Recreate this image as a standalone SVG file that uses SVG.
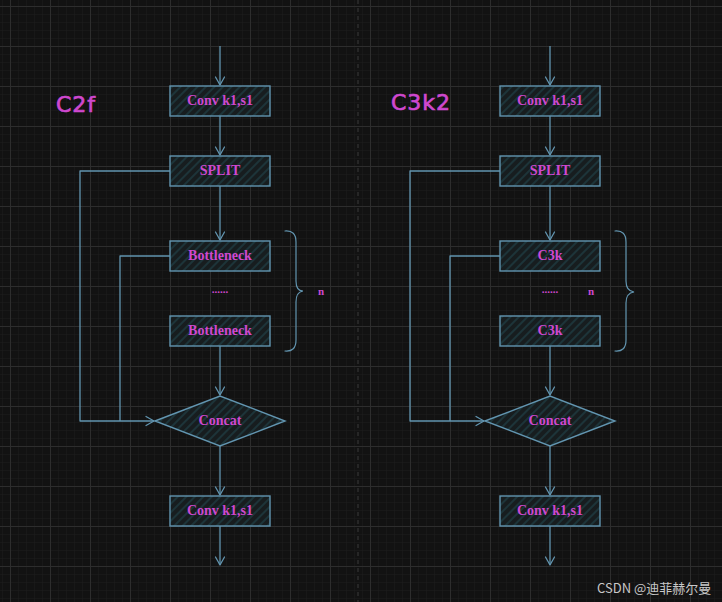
<svg xmlns="http://www.w3.org/2000/svg" width="722" height="602" viewBox="0 0 722 602">
<defs>
<pattern id="minor" x="2" y="6" width="8" height="8" patternUnits="userSpaceOnUse">
<path d="M0,0 V8 M0,0 H8" stroke="#1d1d1d" stroke-width="1" fill="none"/>
</pattern>
<pattern id="major" x="10" y="6" width="40" height="40" patternUnits="userSpaceOnUse">
<path d="M0.5,0 V40 M0,0.5 H40" stroke="#2d2d2d" stroke-width="1" fill="none"/>
</pattern>
<pattern id="hatch" width="6" height="6" patternUnits="userSpaceOnUse" patternTransform="rotate(-45)">
<rect width="6" height="6" fill="#171d1f"/>
<path d="M0,3 H6" stroke="#21434a" stroke-width="1.2"/>
</pattern>
<marker id="arr" markerWidth="12" markerHeight="12" refX="0" refY="0" viewBox="-10 -6 12 12" orient="auto" markerUnits="userSpaceOnUse">
<path d="M-8,-4.5 L0,0 L-8,4.5" fill="none" stroke="#6295b0" stroke-width="1.3" stroke-linejoin="round" stroke-linecap="round"/>
</marker>
</defs>
<style>
.node{fill:url(#hatch);stroke:#6295b0;stroke-width:1.4}
.lbl{font-family:"Liberation Serif",serif;font-weight:bold;font-size:14px;fill:#cf48cf;text-anchor:middle}
.title{font-family:"DejaVu Sans",sans-serif;font-size:22px;fill:#cf48cf;stroke:#cf48cf;stroke-width:0.7;letter-spacing:1px}
.edge{fill:none;stroke:#6295b0;stroke-width:1.3;stroke-linejoin:round}
.brace{fill:none;stroke:#6295b0;stroke-width:1.2;stroke-linecap:round}
</style>
<rect width="722" height="602" fill="#121212"/>
<rect width="722" height="602" fill="url(#minor)"/>
<rect width="722" height="602" fill="url(#major)"/>
<line x1="358" y1="0" x2="358" y2="602" stroke="#3a3a3a" stroke-width="1" stroke-dasharray="4,4"/>

<text class="title" x="56" y="112">C2f</text>
<text class="title" x="391" y="110">C3k2</text>

<g id="connectors">
<path class="edge" d="M220,46 V85" marker-end="url(#arr)"/>
<path class="edge" d="M220,116 V155" marker-end="url(#arr)"/>
<path class="edge" d="M220,186 V240" marker-end="url(#arr)"/>
<path class="edge" d="M220,346 V395" marker-end="url(#arr)"/>
<path class="edge" d="M220,446 V495" marker-end="url(#arr)"/>
<path class="edge" d="M220,526 V565" marker-end="url(#arr)"/>
<path class="edge" d="M170,171 H80 V421 H154" marker-end="url(#arr)"/>
<path class="edge" d="M170,256 H120 V421"/>

<path class="edge" d="M550,46 V85" marker-end="url(#arr)"/>
<path class="edge" d="M550,116 V155" marker-end="url(#arr)"/>
<path class="edge" d="M550,186 V240" marker-end="url(#arr)"/>
<path class="edge" d="M550,346 V395" marker-end="url(#arr)"/>
<path class="edge" d="M550,446 V495" marker-end="url(#arr)"/>
<path class="edge" d="M550,526 V565" marker-end="url(#arr)"/>
<path class="edge" d="M500,171 H410 V421 H484" marker-end="url(#arr)"/>
<path class="edge" d="M500,256 H450 V421"/>
</g>

<g id="c2f-conv1"><rect class="node" x="170" y="86" width="100" height="30"/><text class="lbl" x="220" y="105">Conv k1,s1</text></g>
<g id="c2f-split"><rect class="node" x="170" y="156" width="100" height="30"/><text class="lbl" x="220" y="175">SPLIT</text></g>
<g id="c2f-bottleneck1"><rect class="node" x="170" y="241" width="100" height="30"/><text class="lbl" x="220" y="260">Bottleneck</text></g>
<g id="c2f-dots"><text class="lbl" x="220" y="293" style="font-size:11px">......</text></g>
<g id="c2f-bottleneck2"><rect class="node" x="170" y="316" width="100" height="30"/><text class="lbl" x="220" y="335">Bottleneck</text></g>
<g id="c2f-concat"><path class="node" d="M155,421 L220,396 L285,421 L220,446 Z"/><text class="lbl" x="220" y="425">Concat</text></g>
<g id="c2f-conv2"><rect class="node" x="170" y="496" width="100" height="30"/><text class="lbl" x="220" y="515">Conv k1,s1</text></g>
<g id="c2f-brace"><path class="brace" d="M285,231 Q296,230 296,242 V281 Q296,291 303,291 Q296,292 296,302 V340 Q296,352 285,351"/><text class="lbl" x="321" y="295" style="font-size:11px">n</text></g>

<g id="c3k2-conv1"><rect class="node" x="500" y="86" width="100" height="30"/><text class="lbl" x="550" y="105">Conv k1,s1</text></g>
<g id="c3k2-split"><rect class="node" x="500" y="156" width="100" height="30"/><text class="lbl" x="550" y="175">SPLIT</text></g>
<g id="c3k2-c3k1"><rect class="node" x="500" y="241" width="100" height="30"/><text class="lbl" x="550" y="260">C3k</text></g>
<g id="c3k2-dots"><text class="lbl" x="550" y="293" style="font-size:11px">......</text><text class="lbl" x="591" y="295" style="font-size:11px">n</text></g>
<g id="c3k2-c3k2"><rect class="node" x="500" y="316" width="100" height="30"/><text class="lbl" x="550" y="335">C3k</text></g>
<g id="c3k2-concat"><path class="node" d="M485,421 L550,396 L615,421 L550,446 Z"/><text class="lbl" x="550" y="425">Concat</text></g>
<g id="c3k2-conv2"><rect class="node" x="500" y="496" width="100" height="30"/><text class="lbl" x="550" y="515">Conv k1,s1</text></g>
<g id="c3k2-brace"><path class="brace" d="M615,231 Q626,230 626,242 V281 Q626,291 634,292 Q626,293 626,303 V340 Q626,352 615,351"/></g>

<text x="597" y="593" style="font-family:'Noto Sans CJK SC','DejaVu Sans',sans-serif;font-size:13px;fill:#c8c8c8">CSDN @迪菲赫尔曼</text>
</svg>
